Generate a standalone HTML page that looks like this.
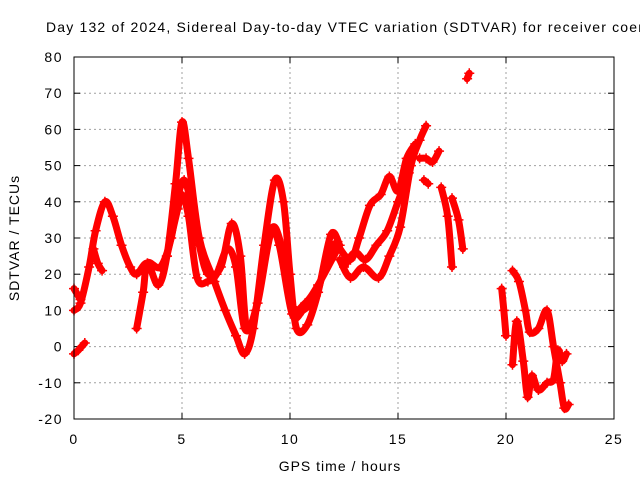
<!DOCTYPE html>
<html><head><meta charset="utf-8"><style>
body{margin:0;background:#fff;width:640px;height:480px;overflow:hidden}
svg{font-family:"Liberation Sans",sans-serif;font-size:14px}
</style></head><body>
<svg id="chart" width="640" height="480">
<text x="46" y="32" textLength="600" lengthAdjust="spacing">Day 132 of 2024, Sidereal Day-to-day VTEC variation (SDTVAR) for receiver coen</text>
<g id="grid"></g>
<g id="axes"></g>
<g id="series"></g>
<rect x="74" y="57" width="540" height="362" fill="none" stroke="#000"/>
<text x="340" y="471" text-anchor="middle" letter-spacing="1">GPS time / hours</text>
<text transform="translate(19,238) rotate(-90)" text-anchor="middle" letter-spacing="1">SDTVAR / TECUs</text>
</svg>
<script>
const xTicks=[0,5,10,15,20,25];
const yTicks=[-20,-10,0,10,20,30,40,50,60,70,80];
const trAx=[0,0.3,0.7,1.0,1.43,1.8,2.2,2.6,2.9,3.4,3.9,4.3,4.7,5.0,5.3,5.8,6.5,7.0,7.5,7.9,8.3,8.8,9.3,9.7,10.0,10.3,10.8,11.3,11.9,12.3];
const trAy=[10,12,22,32,40,36,28,22,20,23,17,25,45,62,52,30,18,10,3,-2,5,28,46,40,20,5,6,15,31,28];
const trBx=[2.9,3.2,3.4,4.0,4.5,4.8,5.1,5.4,5.8,6.2,6.8,7.3,7.7,8.0,8.5,9.1,9.5,10.1,10.6,11.2,11.8,12.2];
const trBy=[5,15,23,22,30,41,46,40,28,20,22,34,25,5,12,31,28,9,10,14,26,29];
const trCx=[4.3,4.8,5.0,5.3,5.7,6.2,6.6,7.1,7.5,7.9,8.4,9.1,9.6,10.1,10.7,11.3,12.2];
const trCy=[25,38,42,36,19,18,20,27,22,5,10,32,28,11,12,17,27];
const trDx=[0,0.3];
const trDy=[16,13];
const trEx=[0,0.2,0.5];
const trEy=[-2,-1,1];
const trFx=[0.9,1.1,1.3];
const trFy=[27,23,21];
const trGx=[12.3,12.8,13.4,14.1,14.6,15.1,15.6,16.0,16.3];
const trGy=[24,19,22,19,25,33,50,57,61];
const trHx=[12.2,12.8,13.2,13.7,14.2,14.6,15.0,15.4,15.8];
const trHy=[28,24,30,39,42,47,43,52,56];
const trH2x=[12.5,13,13.5,14,14.5,15,15.5];
const trH2y=[22,26,24,28,32,40,48];
const trIx=[16.0,16.3,16.6,16.9];
const trIy=[52,52,51,54];
const trJx=[16.2,16.4];
const trJy=[46,45];
const trKx=[17.0,17.3,17.5];
const trKy=[44,36,22];
const trLx=[17.5,17.8,18.0];
const trLy=[41,35,27];
const trMx=[18.2,18.3];
const trMy=[74,75.5];
const trNx=[19.8,19.9,20.0];
const trNy=[16,10,3];
const trOx=[20.3,20.6,20.9,21.1,21.5,21.9,22.2,22.5,22.7,22.9];
const trOy=[21,18,10,4,5,10,0,-10,-17,-16];
const trPx=[20.3,20.5,20.8,21.0,21.2,21.5,21.9,22.2,22.4,22.6,22.8];
const trPy=[-5,7,-4,-14,-8,-12,-10,-9,-1,-4,-2];
const traces=[[trAx,trAy],[trBx,trBy],[trCx,trCy],[trDx,trDy],[trEx,trEy],[trFx,trFy],[trGx,trGy],[trHx,trHy],[trH2x,trH2y],[trIx,trIy],[trJx,trJy],[trKx,trKy],[trLx,trLy],[trMx,trMy],[trNx,trNy],[trOx,trOy],[trPx,trPy]];
const NS="http://www.w3.org/2000/svg";
function X(v){return 74+v*540/25;}
function Y(v){return 419-(v+20)*362/100;}
const grid=document.getElementById('grid'),axes=document.getElementById('axes'),ser=document.getElementById('series');
function mk(tag,attrs,parent){const e=document.createElementNS(NS,tag);for(const k in attrs)e.setAttribute(k,attrs[k]);parent.appendChild(e);return e;}
xTicks.forEach(t=>{
  const g=mk('line',{x1:X(t),x2:X(t),y1:57,y2:419,stroke:'#a0a0a0','stroke-dasharray':'2,3'},grid);
  
  
  mk('line',{x1:X(t),x2:X(t),y1:419,y2:413,stroke:'#000'},axes);
  mk('line',{x1:X(t),x2:X(t),y1:57,y2:63,stroke:'#000'},axes);
  const l=mk('text',{x:X(t),y:444,'text-anchor':'middle','letter-spacing':'1.5'},axes);l.textContent=t;
  
  
});
yTicks.forEach(t=>{
  const g=mk('line',{x1:74,x2:614,y1:Y(t),y2:Y(t),stroke:'#a0a0a0','stroke-dasharray':'2,3'},grid);
  
  
  mk('line',{x1:74,x2:80,y1:Y(t),y2:Y(t),stroke:'#000'},axes);
  mk('line',{x1:608,x2:614,y1:Y(t),y2:Y(t),stroke:'#000'},axes);
  const l=mk('text',{x:63,y:Y(t)+5,'text-anchor':'end','letter-spacing':'1.5'},axes);l.textContent=t;
  
  
});
function smoothPath(p){
  if(p.length<3)return 'M'+p.map(q=>q.join(',')).join('L');
  let d='M'+p[0][0]+','+p[0][1];
  for(let i=0;i<p.length-1;i++){
    const p0=p[i-1]||p[i],p1=p[i],p2=p[i+1],p3=p[i+2]||p2;
    const c1=[p1[0]+(p2[0]-p0[0])/6,p1[1]+(p2[1]-p0[1])/6];
    const c2=[p2[0]-(p3[0]-p1[0])/6,p2[1]-(p3[1]-p1[1])/6];
    d+=`C${c1[0]},${c1[1]} ${c2[0]},${c2[1]} ${p2[0]},${p2[1]}`;
  }
  return d;
}
traces.forEach(([xs,ys])=>{
  const pts=xs.map((x,i)=>[X(x),Y(ys[i])]);
  const p=mk('path',{d:smoothPath(pts),fill:'none',stroke:'#f00','stroke-width':7,'stroke-linejoin':'round','stroke-linecap':'round'},ser);
  
  
  pts.forEach(([cx,cy])=>{
    const m=mk('path',{d:`M${cx-5},${cy}H${cx+5}M${cx},${cy-5}V${cy+5}`,stroke:'#f00','stroke-width':1.5},ser);
    
    
  });
});
</script>
</body></html>
